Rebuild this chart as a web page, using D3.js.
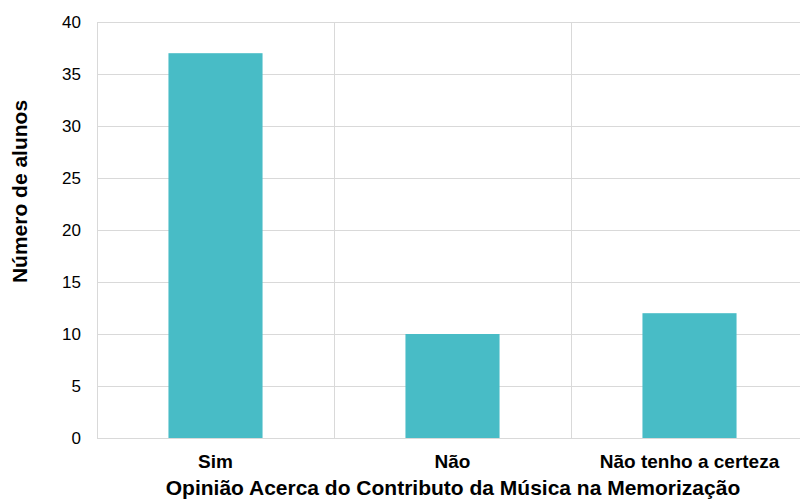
<!DOCTYPE html>
<html><head><meta charset="utf-8">
<script src="https://cdn.jsdelivr.net/npm/d3@7"></script>
<style>body{margin:0;background:#fff}svg{display:block;font-family:"Liberation Sans",Arial,sans-serif}</style>
</head><body>
<svg id="c" width="800" height="500"></svg>
<script>
const categories = ["Sim", "Não", "Não tenho a certeza"];
const values = [37, 10, 12];
const yTicks = [0, 5, 10, 15, 20, 25, 30, 35, 40];
const xTitle = "Opinião Acerca do Contributo da Música na Memorização";
const yTitle = "Número de alunos";

(function () {
const svg = d3.select("#c");
const pL = 97, pR = 808, pT = 22, pB = 438;
const x = d3.scaleBand().domain(categories).range([pL, pR]).paddingInner(0).paddingOuter(0);
const y = d3.scaleLinear().domain([0, 40]).range([pB, pT]);
const grid = "#d9d9d9";

svg.append("g").selectAll("line").data(yTicks).join("line")
  .attr("x1", pL).attr("x2", pR)
  .attr("y1", d => y(d) + 0.5).attr("y2", d => y(d) + 0.5)
  .attr("stroke", grid).attr("stroke-width", 1);
svg.append("g").selectAll("line").data(categories).join("line")
  .attr("x1", d => x(d) + 0.5).attr("x2", d => x(d) + 0.5)
  .attr("y1", pT).attr("y2", pB)
  .attr("stroke", grid).attr("stroke-width", 1);
svg.append("line").attr("x1", pR - 0.5).attr("x2", pR - 0.5).attr("y1", pT).attr("y2", pB).attr("stroke", grid);

const bw = x.bandwidth() * 0.397;
svg.append("g").selectAll("rect").data(categories).join("rect")
  .attr("x", d => x(d) + (x.bandwidth() - bw) / 2)
  .attr("width", bw)
  .attr("y", (d, i) => y(values[i]))
  .attr("height", (d, i) => y(0) - y(values[i]))
  .attr("fill", "#48bcc6");

svg.append("g").selectAll("text").data(yTicks).join("text")
  .attr("x", 81).attr("y", d => y(d)).attr("dy", "0.35em")
  .attr("text-anchor", "end").attr("font-size", 17).attr("fill", "#000")
  .text(d => d);

svg.append("g").selectAll("text").data(categories).join("text")
  .attr("x", d => x(d) + x.bandwidth() / 2).attr("y", 468)
  .attr("text-anchor", "middle").attr("font-size", 19).attr("font-weight", "bold").attr("fill", "#000")
  .text(d => d);

svg.append("text").attr("x", 453).attr("y", 495).attr("text-anchor", "middle")
  .attr("font-size", 21).attr("font-weight", "bold").text(xTitle);
svg.append("text").attr("transform", "translate(27,191.5) rotate(-90)").attr("text-anchor", "middle")
  .attr("font-size", 21).attr("font-weight", "bold").text(yTitle);
})();
</script>
</body></html>
